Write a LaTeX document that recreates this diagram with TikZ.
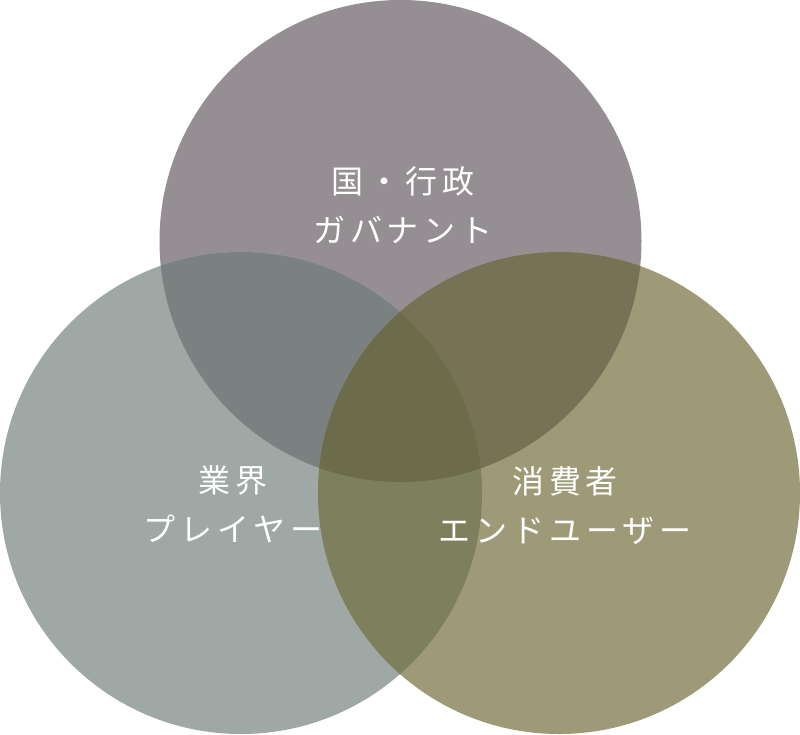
\documentclass[tikz,border=0pt]{standalone}
\usepackage{fontspec}
\newfontfamily\jp[LetterSpace=15.5]{Noto Sans CJK JP}
\definecolor{cT}{HTML}{958E93}
\definecolor{cL}{HTML}{A0A8A6}
\definecolor{cR}{HTML}{9E9A77}
\definecolor{cTL}{HTML}{7A8180}
\definecolor{cTR}{HTML}{777255}
\definecolor{cLR}{HTML}{7E7F5C}
\definecolor{cTLR}{HTML}{6C6C4B}
\tikzset{lbl/.style={text=white,font=\jp\fontsize{32}{49}\selectfont,align=center,inner sep=0pt}}
\begin{document}
\begin{tikzpicture}[x=1pt,y=-1pt]
\useasboundingbox (0,0) rectangle (800,734);
\def\T{(400.5,241) circle[radius=241]}
\def\L{(241,493) circle[radius=241]}
\def\R{(559,493) circle[radius=241]}
\fill[cT] \T;
\fill[cL] \L;
\fill[cR] \R;
\begin{scope}\clip \T; \fill[cTL] \L; \end{scope}
\begin{scope}\clip \T; \fill[cTR] \R; \end{scope}
\begin{scope}\clip \L; \fill[cLR] \R; \end{scope}
\begin{scope}\clip \T; \clip \L; \fill[cTLR] \R; \end{scope}
\node[lbl] (gov) at (403,205) {国・行政\\ガバナント};
\node[lbl] (ind) at (233,504) {業界\\プレイヤー};
\node[lbl] (con) at (565,506) {消費者\\エンドユーザー};
\end{tikzpicture}
\end{document}
